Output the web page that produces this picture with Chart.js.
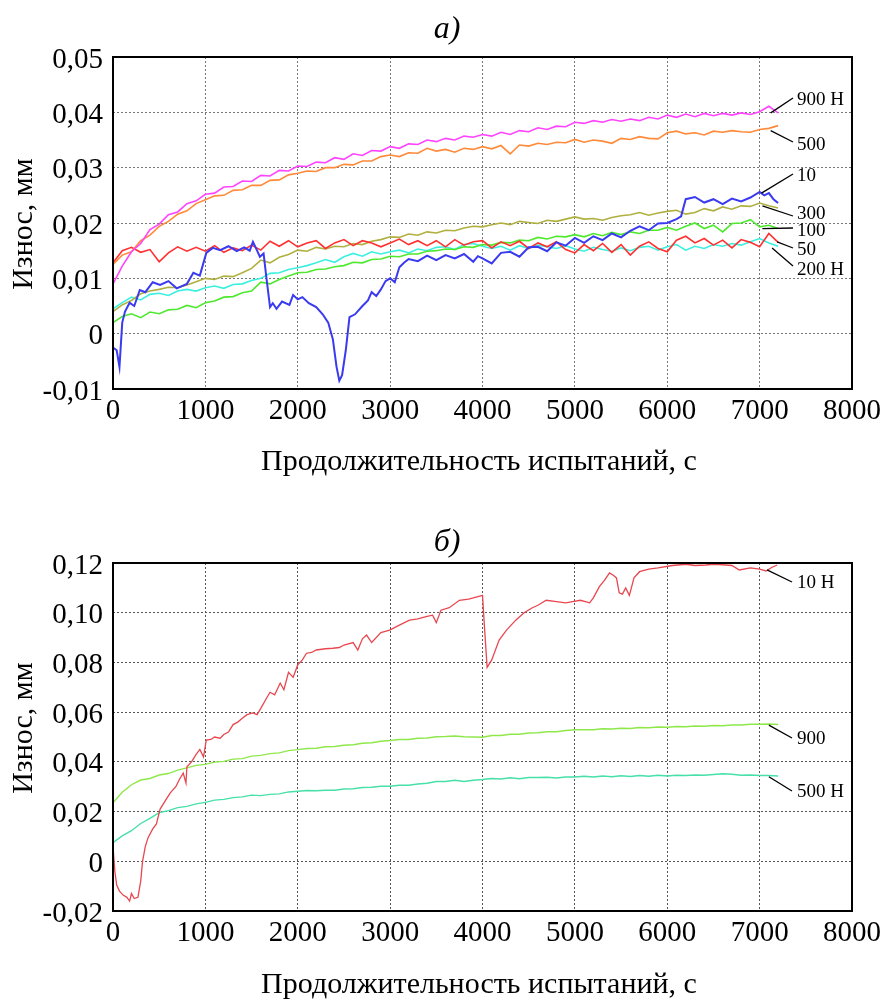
<!DOCTYPE html>
<html><head><meta charset="utf-8">
<script src="https://cdn.jsdelivr.net/npm/chart.js@4.4.1/dist/chart.umd.min.js"></script>
<style>
html,body{margin:0;padding:0;background:#fff;width:886px;height:1001px;overflow:hidden}
canvas{position:absolute;left:0;display:block}
#c1{top:0}#c2{top:500px}
</style></head><body>
<canvas id="c1" width="886" height="500"></canvas>
<canvas id="c2" width="886" height="501"></canvas>
<script>
// ---------- DATA: chart a) ----------
const timeA = [0,100,200,300,400,500,600,700,800,900,1000,1100,1200,1300,1400,1500,1600,1700,1800,1900,2000,2100,2200,2300,2400,2500,2600,2700,2800,2900,3000,3100,3200,3300,3400,3500,3600,3700,3800,3900,4000,4100,4200,4300,4400,4500,4600,4700,4800,4900,5000,5100,5200,5300,5400,5500,5600,5700,5800,5900,6000,6100,6200,6300,6400,6500,6600,6700,6800,6900,7000,7100,7200];
const wear900 = [0.0090,0.0122,0.0148,0.0163,0.0188,0.0198,0.0215,0.0220,0.0235,0.0240,
0.0252,0.0254,0.0265,0.0266,0.0276,0.0275,0.0286,0.0285,0.0295,0.0294,
0.0303,0.0302,0.0310,0.0309,0.0318,0.0315,0.0325,0.0322,0.0331,0.0330,
0.0338,0.0335,0.0343,0.0342,0.0350,0.0347,0.0353,0.0350,0.0357,0.0355,
0.0360,0.0357,0.0364,0.0360,0.0367,0.0365,0.0372,0.0369,0.0375,0.0374,
0.0382,0.0380,0.0385,0.0382,0.0387,0.0384,0.0388,0.0385,0.0391,0.0388,
0.0395,0.0391,0.0397,0.0392,0.0398,0.0394,0.0398,0.0395,0.0399,0.0396,
0.0401,0.0411,0.0399];
const wear500 = [0.0125,0.0142,0.0148,0.0168,0.0178,0.0194,0.0203,0.0216,0.0222,0.0235,
0.0242,0.0249,0.0250,0.0259,0.0260,0.0268,0.0268,0.0277,0.0278,0.0287,
0.0290,0.0294,0.0293,0.0300,0.0300,0.0306,0.0305,0.0312,0.0312,0.0320,
0.0323,0.0320,0.0327,0.0326,0.0335,0.0330,0.0333,0.0328,0.0335,0.0333,
0.0338,0.0334,0.0340,0.0325,0.0341,0.0339,0.0344,0.0342,0.0346,0.0345,
0.0351,0.0346,0.0350,0.0348,0.0344,0.0353,0.0351,0.0356,0.0353,0.0352,
0.0363,0.0366,0.0361,0.0363,0.0359,0.0366,0.0364,0.0367,0.0365,0.0364,
0.0369,0.0371,0.0376];
const wear50 = [0.0128,0.0150,0.0156,0.0147,0.0152,0.0130,0.0146,0.0157,0.0149,0.0156,
0.0149,0.0159,0.0147,0.0155,0.0150,0.0160,0.0151,0.0167,0.0158,0.0168,
0.0157,0.0164,0.0168,0.0154,0.0164,0.0170,0.0159,0.0168,0.0164,0.0157,
0.0164,0.0171,0.0161,0.0168,0.0159,0.0168,0.0157,0.0170,0.0160,0.0166,
0.0168,0.0155,0.0166,0.0159,0.0167,0.0154,0.0164,0.0157,0.0166,0.0152,
0.0146,0.0161,0.0150,0.0163,0.0147,0.0161,0.0142,0.0158,0.0166,0.0154,
0.0148,0.0169,0.0176,0.0164,0.0172,0.0160,0.0169,0.0155,0.0170,0.0165,
0.0157,0.0181,0.0165];
const wear300 = [0.0040,0.0052,0.0060,0.0072,0.0077,0.0080,0.0084,0.0083,0.0088,0.0094,
0.0100,0.0098,0.0104,0.0103,0.0110,0.0118,0.0133,0.0128,0.0138,0.0143,
0.0151,0.0149,0.0156,0.0153,0.0158,0.0157,0.0163,0.0161,0.0167,0.0170,
0.0175,0.0174,0.0180,0.0178,0.0184,0.0182,0.0187,0.0186,0.0191,0.0194,
0.0193,0.0197,0.0200,0.0197,0.0203,0.0201,0.0199,0.0205,0.0203,0.0207,
0.0211,0.0207,0.0208,0.0205,0.0210,0.0213,0.0215,0.0219,0.0214,0.0218,
0.0221,0.0223,0.0216,0.0219,0.0226,0.0222,0.0229,0.0225,0.0231,0.0230,
0.0236,0.0231,0.0227];
const wear100 = [0.0020,0.0031,0.0036,0.0029,0.0039,0.0036,0.0043,0.0044,0.0051,0.0047,
0.0056,0.0059,0.0066,0.0067,0.0074,0.0077,0.0093,0.0090,0.0098,0.0104,
0.0110,0.0111,0.0116,0.0117,0.0121,0.0123,0.0129,0.0128,0.0134,0.0135,
0.0140,0.0139,0.0144,0.0144,0.0149,0.0150,0.0153,0.0152,0.0157,0.0156,
0.0161,0.0160,0.0165,0.0164,0.0169,0.0168,0.0174,0.0171,0.0176,0.0175,
0.0179,0.0175,0.0181,0.0177,0.0183,0.0179,0.0184,0.0181,0.0187,0.0187,
0.0192,0.0187,0.0194,0.0200,0.0190,0.0196,0.0184,0.0199,0.0200,0.0206,
0.0193,0.0196,0.0190];
const wear200 = [0.0045,0.0056,0.0066,0.0061,0.0071,0.0073,0.0069,0.0077,0.0080,0.0077,
0.0083,0.0086,0.0082,0.0089,0.0090,0.0096,0.0100,0.0109,0.0110,0.0116,
0.0119,0.0123,0.0128,0.0134,0.0129,0.0139,0.0145,0.0140,0.0148,0.0144,
0.0148,0.0151,0.0146,0.0153,0.0150,0.0156,0.0157,0.0152,0.0161,0.0163,
0.0158,0.0154,0.0158,0.0151,0.0159,0.0154,0.0160,0.0157,0.0154,0.0159,
0.0153,0.0149,0.0156,0.0152,0.0149,0.0155,0.0150,0.0156,0.0158,0.0151,
0.0157,0.0161,0.0151,0.0158,0.0154,0.0161,0.0158,0.0163,0.0160,0.0166,
0.0172,0.0164,0.0158];
const time10 = [0,40,70,100,130,180,230,290,350,430,
510,600,690,800,870,940,1010,1080,1160,1250,
1340,1420,1480,1515,1560,1590,1630,1660,1700,1730,
1770,1830,1910,1950,2000,2050,2120,2200,2270,2330,
2380,2420,2450,2480,2520,2560,2620,2700,2760,2800,
2850,2900,2950,3000,3050,3100,3150,3200,3300,3400,
3500,3600,3700,3800,3900,3950,4000,4100,4200,4300,
4400,4500,4600,4700,4800,4900,5000,5100,5200,5300,
5400,5500,5600,5700,5800,5900,6000,6100,6150,6200,
6300,6400,6500,6600,6700,6800,6900,7000,7050,7100,
7150,7200];
const wear10 = [-0.0025,-0.0030,-0.0060,0.0020,0.0040,0.0056,0.0050,0.0079,0.0075,0.0093,
0.0088,0.0095,0.0082,0.0090,0.0110,0.0105,0.0146,0.0155,0.0151,0.0158,
0.0149,0.0156,0.0150,0.0166,0.0150,0.0139,0.0145,0.0102,0.0048,0.0055,
0.0045,0.0058,0.0052,0.0070,0.0062,0.0066,0.0055,0.0048,0.0035,0.0020,
-0.0010,-0.0060,-0.0085,-0.0075,-0.0030,0.0030,0.0035,0.0050,0.0060,0.0075,
0.0068,0.0080,0.0095,0.0100,0.0093,0.0120,0.0128,0.0135,0.0131,0.0141,
0.0133,0.0142,0.0136,0.0144,0.0130,0.0140,0.0136,0.0127,0.0146,0.0148,
0.0139,0.0156,0.0157,0.0149,0.0165,0.0159,0.0173,0.0164,0.0176,0.0169,
0.0181,0.0174,0.0186,0.0194,0.0187,0.0199,0.0200,0.0207,0.0212,0.0243,
0.0247,0.0237,0.0243,0.0234,0.0244,0.0239,0.0246,0.0256,0.0250,0.0254,
0.0243,0.0236];

// ---------- DATA: chart б) ----------
const timeB = timeA;
const wearB900 = [0.0235,0.0278,0.0308,0.0327,0.0333,0.0347,0.0353,0.0367,0.0376,0.0386,
0.0390,0.0399,0.0402,0.0411,0.0413,0.0423,0.0426,0.0433,0.0436,0.0445,
0.0449,0.0454,0.0455,0.0461,0.0462,0.0467,0.0469,0.0475,0.0477,0.0483,
0.0486,0.0490,0.0490,0.0495,0.0496,0.0501,0.0502,0.0504,0.0501,0.0500,
0.0499,0.0506,0.0506,0.0511,0.0511,0.0516,0.0517,0.0521,0.0521,0.0526,
0.0529,0.0529,0.0529,0.0533,0.0532,0.0535,0.0534,0.0538,0.0537,0.0540,
0.0539,0.0542,0.0541,0.0544,0.0543,0.0546,0.0545,0.0548,0.0548,0.0551,
0.0551,0.0552,0.0550];
const wearB500 = [0.0075,0.0102,0.0123,0.0152,0.0173,0.0196,0.0204,0.0216,0.0221,0.0231,
0.0237,0.0246,0.0249,0.0256,0.0259,0.0266,0.0264,0.0269,0.0271,0.0279,
0.0282,0.0285,0.0284,0.0286,0.0286,0.0291,0.0292,0.0297,0.0298,0.0302,
0.0302,0.0306,0.0306,0.0311,0.0314,0.0321,0.0321,0.0326,0.0321,0.0326,
0.0329,0.0333,0.0331,0.0336,0.0332,0.0337,0.0337,0.0338,0.0335,0.0339,
0.0339,0.0342,0.0339,0.0343,0.0340,0.0344,0.0341,0.0345,0.0342,0.0346,
0.0343,0.0346,0.0345,0.0347,0.0346,0.0349,0.0352,0.0350,0.0346,0.0347,
0.0345,0.0345,0.0343];
const timeB10 = [0,20,40,70,110,150,180,200,230,270,
300,320,350,380,430,470,510,560,620,680,
720,760,790,800,850,900,940,980,1010,1060,
1100,1160,1200,1250,1300,1350,1400,1450,1515,1560,
1600,1660,1700,1750,1810,1850,1900,1950,2000,2050,
2095,2150,2200,2300,2380,2450,2500,2600,2650,2700,
2745,2800,2900,2995,3100,3210,3300,3400,3460,3500,
3550,3640,3750,3850,3950,4000,4020,4050,4100,4180,
4260,4360,4450,4540,4600,4690,4800,4900,4975,5060,
5160,5200,5265,5320,5375,5420,5450,5480,5515,5550,
5590,5640,5700,5800,5900,6055,6200,6300,6420,6500,
6600,6700,6780,6900,7000,7070,7130,7190];
const wearB10 = [0.0060,-0.0040,-0.0096,-0.0120,-0.0136,-0.0145,-0.0160,-0.0130,-0.0150,-0.0145,
-0.0080,0.0000,0.0060,0.0095,0.0130,0.0150,0.0210,0.0240,0.0275,0.0300,
0.0330,0.0355,0.0315,0.0380,0.0400,0.0430,0.0450,0.0420,0.0488,0.0490,
0.0500,0.0495,0.0510,0.0520,0.0550,0.0560,0.0575,0.0590,0.0597,0.0590,
0.0615,0.0655,0.0680,0.0670,0.0717,0.0690,0.0760,0.0740,0.0790,0.0810,
0.0837,0.0840,0.0850,0.0855,0.0857,0.0860,0.0870,0.0880,0.0850,0.0895,
0.0910,0.0880,0.0920,0.0930,0.0950,0.0970,0.0975,0.0985,0.0990,0.0960,
0.1010,0.1020,0.1050,0.1055,0.1065,0.1070,0.0950,0.0780,0.0810,0.0890,
0.0930,0.0970,0.1000,0.1020,0.1030,0.1050,0.1045,0.1040,0.1045,0.1050,
0.1040,0.1060,0.1105,0.1130,0.1160,0.1150,0.1140,0.1080,0.1075,0.1100,
0.1070,0.1140,0.1165,0.1175,0.1180,0.1190,0.1195,0.1190,0.1192,0.1195,
0.1193,0.1190,0.1172,0.1180,0.1175,0.1168,0.1182,0.1192];

// ---------- tick labels ----------
const xTicks = [0,1000,2000,3000,4000,5000,6000,7000,8000];
const yTicksA = [-0.01,0,0.01,0.02,0.03,0.04,0.05];
const yTicksB = [-0.02,0,0.02,0.04,0.06,0.08,0.10,0.12];

const FONT = '"Liberation Serif", "Times New Roman", serif';

function pts(xs, ys){ return xs.map((x,i)=>({x:x, y:ys[i]})); }
function fmtY(v){ return Math.abs(v) < 1e-9 ? '0' : v.toFixed(2).replace('.', ','); }

const decor = {
  id:'decor',
  afterDraw(chart, args, o){
    const ctx = chart.ctx, a = chart.chartArea;
    const xs = chart.scales.x, ys = chart.scales.y;
    ctx.save();
    ctx.setLineDash([]);
    ctx.strokeStyle = '#000'; ctx.lineWidth = 2;
    ctx.strokeRect(a.left, a.top, a.right - a.left, a.bottom - a.top);
    ctx.fillStyle = '#000';
    ctx.textAlign = 'center'; ctx.textBaseline = 'middle';
    ctx.font = 'italic 32px ' + FONT;
    ctx.fillText(o.title, o.titleX, o.titleY);
    ctx.font = '30px ' + FONT;
    ctx.fillText(o.xTitle, o.xTitleX, o.xTitleY);
    ctx.save(); ctx.translate(o.yTitleX, o.yTitleY); ctx.rotate(-Math.PI/2);
    ctx.fillText(o.yTitle, 0, 0); ctx.restore();
    ctx.font = '19px ' + FONT; ctx.textAlign = 'left';
    ctx.lineWidth = 1.3;
    for (const n of o.notes){
      const sx = xs.getPixelForValue(n.t), sy = ys.getPixelForValue(n.v);
      ctx.beginPath(); ctx.moveTo(sx, sy); ctx.lineTo(n.ex, n.ey); ctx.stroke();
      ctx.fillText(n.text, n.tx, n.ty);
    }
    ctx.restore();
  }
};

function makeChart(id, cfg){
  const yTicks = cfg.yTicks;
  return new Chart(document.getElementById(id), {
    type:'line',
    data:{ datasets: cfg.series.map(s=>({
      data: pts(s.t, s.v), borderColor: s.color, borderWidth: s.w || 1.6,
      pointRadius: 0, fill: false, tension: 0
    }))},
    options:{
      responsive:false, animation:false, devicePixelRatio:1,
      layout:{ padding:{ top: cfg.padTop, right: 33, bottom: 0, left: 0 } },
      plugins:{ legend:{display:false}, tooltip:{enabled:false}, decor: cfg.decor },
      scales:{
        x:{ type:'linear', min:0, max:8000,
          afterFit:(s)=>{ s.height = cfg.xAxisH; },
          afterBuildTicks:(s)=>{ s.ticks = xTicks.map(v=>({value:v})); },
          grid:{ color:cfg.gridColor, lineWidth:1, drawTicks:false },
          border:{ display:false, dash:[2,2] },
          ticks:{ color:'#000', padding:5, maxRotation:0, autoSkip:false,
            font:{ family: FONT, size:29 }, callback:(v)=>String(v) } },
        y:{ type:'linear', min:yTicks[0], max:yTicks[yTicks.length-1],
          afterFit:(s)=>{ s.width = 113; },
          afterBuildTicks:(s)=>{ s.ticks = yTicks.map(v=>({value:v})); },
          grid:{ color:cfg.gridColor, lineWidth:1, drawTicks:false },
          border:{ display:false, dash:[2,2] },
          ticks:{ color:'#000', padding:10, labelOffset:3, autoSkip:false,
            font:{ family: FONT, size:29 }, callback:(v)=>fmtY(v) } }
      }
    },
    plugins:[decor]
  });
}

makeChart('c1', {
  yTicks: yTicksA, padTop: 57, xAxisH: 111, gridColor:'#777',
  series: [
    {t: time10, v: wear10, color:'#3a3af0', w:2},
    {t: timeA, v: wear900, color:'#ff44ff'},
    {t: timeA, v: wear500, color:'#ff8a3a'},
    {t: timeA, v: wear50, color:'#ff3030'},
    {t: timeA, v: wear300, color:'#b0b040'},
    {t: timeA, v: wear100, color:'#4ee82e'},
    {t: timeA, v: wear200, color:'#3cf0e0'}
  ],
  decor: {
    title:'а)', titleX:447, titleY:30,
    xTitle:'Продолжительность испытаний, с', xTitleX:479, xTitleY:462,
    yTitle:'Износ, мм', yTitleX:24, yTitleY:224,
    notes:[
      {text:'900 Н', t:7120, v:0.0399, ex:793, ey:98, tx:797, ty:100},
      {text:'500', t:7120, v:0.0367, ex:793, ey:142, tx:797, ty:145},
      {text:'10', t:7020, v:0.0254, ex:793, ey:174, tx:797, ty:176},
      {text:'300', t:7030, v:0.0231, ex:793, ey:216, tx:797, ty:214},
      {text:'100', t:7030, v:0.0190, ex:793, ey:228, tx:797, ty:231},
      {text:'50', t:7190, v:0.0166, ex:793, ey:248, tx:797, ty:250},
      {text:'200 Н', t:7135, v:0.0155, ex:793, ey:266, tx:797, ty:270}
    ]
  }
});

makeChart('c2', {
  yTicks: yTicksB, padTop: 63, xAxisH: 90, gridColor:'#555',
  series: [
    {t: timeB10, v: wearB10, color:'#e8474f', w:1.3},
    {t: timeB, v: wearB900, color:'#8ee84a', w:1.4},
    {t: timeB, v: wearB500, color:'#46e0a8', w:1.4}
  ],
  decor: {
    title:'б)', titleX:447, titleY:43,
    xTitle:'Продолжительность испытаний, с', xTitleX:479, xTitleY:485,
    yTitle:'Износ, мм', yTitleX:24, yTitleY:228,
    notes:[
      {text:'10 Н', t:7080, v:0.1172, ex:792, ey:82, tx:797, ty:83},
      {text:'900', t:7100, v:0.0548, ex:792, ey:238, tx:797, ty:239},
      {text:'500 Н', t:7100, v:0.0340, ex:792, ey:291, tx:797, ty:292}
    ]
  }
});
</script>
</body></html>
